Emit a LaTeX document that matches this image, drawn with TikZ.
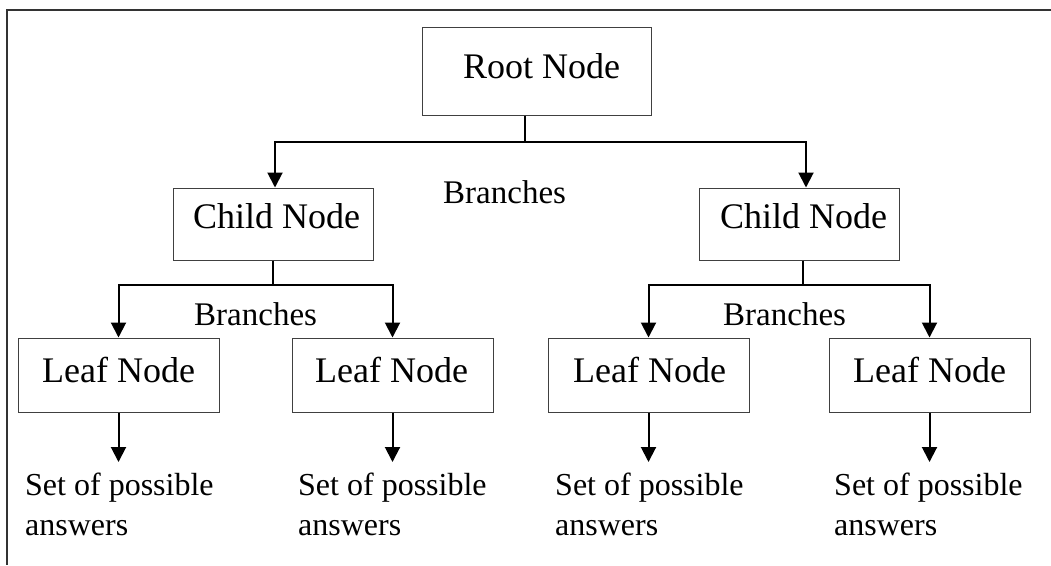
\documentclass[tikz,border=0pt]{standalone}
\usepackage{fontspec}
\setmainfont{Liberation Serif}
\usetikzlibrary{arrows.meta,calc}
\tikzset{
  box/.style={draw=black!75, line width=1pt, inner sep=0pt},
  nodetext/.style={anchor=base west, inner sep=0pt, font=\fontsize{36}{40}\selectfont},
  brtext/.style={anchor=base west, inner sep=0pt, font=\fontsize{33}{40}\selectfont},
  anstext/.style={anchor=base west, inner sep=0pt, align=left, font=\fontsize{32}{40}\selectfont},
  conn/.style={line width=2pt, black},
  arr/.style={conn, -{Triangle[length=15pt,width=15pt]}},
  frame/.style={line width=1.8pt, black!80}
}
\begin{document}
\begin{tikzpicture}[x=1pt,y=-1pt]
\useasboundingbox (0,0) rectangle (1051,565);
% frame
\coordinate (ftl) at (7,10);
\coordinate (ftr) at (1051,10);
\coordinate (fbl) at (7,565);
\draw[frame] (ftr) -- (ftl) -- (fbl);
% boxes
\node[box, minimum width=229, minimum height=88] (root) at (536.5,71) {};
\node[box, minimum width=200, minimum height=72] (c1) at (273,224) {};
\node[box, minimum width=200, minimum height=72] (c2) at (799,224) {};
\node[box, minimum width=201, minimum height=74] (l1) at (118.5,375) {};
\node[box, minimum width=201, minimum height=74] (l2) at (392.5,375) {};
\node[box, minimum width=201, minimum height=74] (l3) at (648.5,375) {};
\node[box, minimum width=201, minimum height=74] (l4) at (929.5,375) {};
% texts
\node[nodetext] (rootT) at (463,78) {Root Node};
\node[nodetext] (c1T) at (193,228) {Child Node};
\node[nodetext] (c2T) at (720,228) {Child Node};
\node[nodetext] (l1T) at (42,382) {Leaf Node};
\node[nodetext] (l2T) at (315,382) {Leaf Node};
\node[nodetext] (l3T) at (573,382) {Leaf Node};
\node[nodetext] (l4T) at (853,382) {Leaf Node};
\node[brtext] (br0) at (443,203) {Branches};
\node[brtext] (br1) at (194,325) {Branches};
\node[brtext] (br2) at (723,325) {Branches};
\node[anstext] (a1) at (25,535) {Set of possible\\answers};
\node[anstext] (a2) at (298,535) {Set of possible\\answers};
\node[anstext] (a3) at (555,535) {Set of possible\\answers};
\node[anstext] (a4) at (834,535) {Set of possible\\answers};
% junctions
\coordinate (rj) at (525,142);
\coordinate (c1j) at (273,285);
\coordinate (c2j) at (803,285);
% root branches
\draw[conn] (rj |- root.south) -- (rj);
\draw[arr] (rj) -| ([xshift=2pt]c1.north);
\draw[arr] (rj) -| ([xshift=7pt]c2.north);
% child 1 branches
\draw[conn] (c1.south) -- (c1j);
\draw[arr] (c1j) -| (l1.north);
\draw[arr] (c1j) -| (l2.north);
% child 2 branches
\draw[conn] (c2j |- c2.south) -- (c2j);
\draw[arr] (c2j) -| (l3.north);
\draw[arr] (c2j) -| (l4.north);
% leaf outputs
\coordinate (e1) at (118.5,462);
\coordinate (e2) at (392.5,462);
\coordinate (e3) at (648.5,462);
\coordinate (e4) at (929.5,462);
\draw[arr] (l1.south) -- (e1);
\draw[arr] (l2.south) -- (e2);
\draw[arr] (l3.south) -- (e3);
\draw[arr] (l4.south) -- (e4);
\end{tikzpicture}
\end{document}
